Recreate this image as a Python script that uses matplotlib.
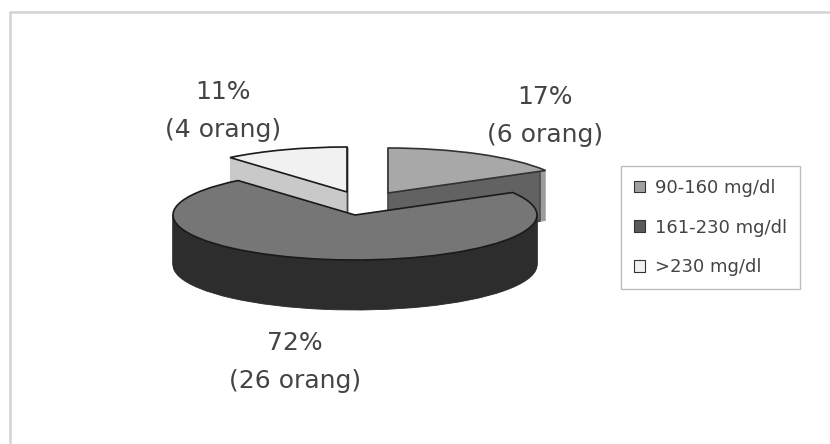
import numpy as np
import matplotlib
matplotlib.use("Agg")
import matplotlib.pyplot as plt
from matplotlib.patches import Patch, Polygon

plt.rcParams['font.family'] = ['DejaVu Sans']

# data
categories = ['90-160 mg/dl', '161-230 mg/dl', '>230 mg/dl']
counts = [6, 26, 4]
percent_labels = ['17%\n(6 orang)', '72%\n(26 orang)', '11%\n(4 orang)']
top_colors = ['#a8a8a8', '#767676', '#f1f1f1']
side_colors = ['#9c9c9c', '#2d2d2d', '#c9c9c9']
legend_colors = ['#a0a0a0', '#5a5a5a', '#f1f1f1']

W, H = 830, 444
RX, RY = 182.0, 45.0
CX, CY = 355.0, 215.0
DEPTH = 50
TXT = '#444444'
EDGE = '#1a1a1a'

# slice centres in picture pixels (explosion of the two small slices)
centres = [(388.0, 193.0), (355.0, 215.0), (347.0, 192.0)]
label_xy = [(545, 116), (295, 362), (223, 111)]


def px(x, y):
    return (x - CX) / RX, (CY - y) / RY


fig = plt.figure(figsize=(W / 100, H / 100), dpi=100)
ax = fig.add_axes([0, 0, 1, 1])


def one_wedge(k, centre, face, edge, lw, z):
    wedges, _ = ax.pie(counts, center=centre, radius=1, startangle=90,
                       counterclock=False, colors=[face] * len(counts),
                       wedgeprops=dict(edgecolor=edge, linewidth=lw))
    for i, w in enumerate(wedges):
        w.set_visible(i == k)
        w.set_zorder(z)
    return wedges[k]


def angles(k):
    fr = np.cumsum([0] + counts) / sum(counts)
    return 90 - 360 * fr[k], 90 - 360 * fr[k + 1]


z = 1
for k in [0, 2, 1]:
    cx, cy = centres[k]
    for d in range(DEPTH, 0, -1):
        one_wedge(k, px(cx, cy + d), side_colors[k], side_colors[k], 0.6, z)
        z += 1
    if k == 0:
        # the cut face of the slice towards the viewer, leaving the rim visible
        a = np.deg2rad(angles(0)[1])
        x0, y0 = px(cx, cy)
        x1, y1 = x0 + 0.965 * np.cos(a), y0 + 0.965 * np.sin(a)
        dd = DEPTH / RY
        ax.add_patch(Polygon([(x0, y0), (x1, y1), (x1, y1 - dd), (x0, y0 - dd)],
                             closed=True, facecolor='#626262',
                             edgecolor='#3a3a3a', linewidth=0.8, zorder=z))
        z += 1
    if k == 2:
        a = np.deg2rad(angles(2)[1])
        x0, y0 = px(cx, cy)
        x1, y1 = x0 + np.cos(a), y0 + np.sin(a)
        dd = DEPTH / RY
        ax.add_patch(Polygon([(x1, y1), (x1, y1 - dd), (x0, y0 - dd), (x0, y0)],
                             closed=True, facecolor=side_colors[2],
                             edgecolor='#444444', linewidth=1.0, zorder=z))
        z += 1
    one_wedge(k, px(cx, cy), top_colors[k], EDGE if k != 0 else '#333333', 1.2, z)
    z += 1

ax.set_aspect('auto')
ax.set_xlim(-CX / RX, (W - CX) / RX)
ax.set_ylim((CY - H) / RY, CY / RY)
ax.set_axis_off()

# labels
for (lx, ly), s in zip(label_xy, percent_labels):
    x, y = px(lx, ly)
    ax.text(x, y, s, ha='center', va='center', fontsize=18, color=TXT,
            linespacing=1.72, zorder=z + 1)

# outer chart frame (open to right and bottom, as cropped)
ax.plot(*zip(px(9.5, 444), px(9.5, 11.5), px(830, 11.5)), color='#d4d4d4',
        lw=1.8, zorder=0, solid_joinstyle='miter')

# legend
handles = [Patch(facecolor=c, edgecolor='#333333', linewidth=0.8) for c in legend_colors]
leg = fig.legend(handles, categories, loc='upper left',
                 bbox_to_anchor=(621 / W, 1 - 166 / H), bbox_transform=fig.transFigure,
                 fontsize=13, frameon=True, fancybox=False, edgecolor='#bdbdbd',
                 framealpha=1, borderpad=0.72, labelspacing=1.2, handlelength=0.62,
                 handleheight=0.62, handletextpad=0.55, borderaxespad=0)
leg.get_frame().set_linewidth(1.0)
for t in leg.get_texts():
    t.set_color('#444444')

fig.savefig('out.png', dpi=100, facecolor='white')
